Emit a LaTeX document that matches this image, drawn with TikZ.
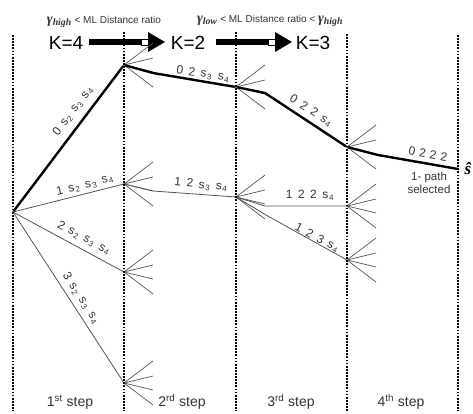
\documentclass[tikz,border=0pt]{standalone}
\usepackage{fontspec}
\setmainfont{Liberation Sans}
\newfontfamily\seriffam{Liberation Serif}
\definecolor{txt}{HTML}{333333}
\definecolor{ln}{HTML}{555555}
\newcommand{\blkarrow}[1]{%
  \fill (#1) ++(0,-3) rectangle ++(52,6);
  \draw[line width=0.8pt, fill=white] (#1) ++(52,-3) rectangle ++(7,6);
  \fill (#1) ++(59,-10) -- ++(17,10) -- ++(-17,10) -- cycle;}
\newcommand{\gam}[1]{{\seriffam\bfseries\itshape\fontsize{14}{14}\selectfont γ\textsubscript{#1}}}
\newcommand{\gp}{\hspace{5.5pt}}
\newcommand{\ssub}[1]{s\kern0.8pt\textsubscript{#1}}
\begin{document}
\begin{tikzpicture}[x=1pt,y=-1pt,
  vtx/.style={circle,fill=black,inner sep=0.7pt},
  grid/.style={line width=1.7pt,dash pattern=on 1.8pt off 1.3pt},
  thin path/.style={draw=ln,line width=0.8pt},
  thick path/.style={draw=black,line width=2.4pt,line join=round},
  fanline/.style={draw=ln,line width=0.7pt},
  lbl/.style={text=txt,font=\fontsize{12}{12}\selectfont,inner sep=0pt},
  steplbl/.style={text=txt,font=\fontsize{14}{14}\selectfont,inner sep=0pt},
  kl/.style={font=\fontsize{19}{19}\selectfont,inner sep=0pt},
  top/.style={font=\fontsize{10}{10}\selectfont,inner sep=0pt,text=txt}]
\useasboundingbox (0,0) rectangle (473,413);
% step separators
\draw[grid] (13,35) -- (13,411);
\draw[grid] (124,32) -- (124,411);
\draw[grid] (236,32) -- (236,411);
\draw[grid] (347,34) -- (347,411);
\draw[grid] (458,35) -- (458,411);
% header
\node[top] (g1) at (104,22) {\gam{high} < ML Distance ratio};
\node[top] (g2) at (270,21) {\gam{low} < ML Distance ratio < \gam{high}};
\node[kl] (k4) at (66,43) {K=4};
\node[kl] (k2) at (188,43) {K=2};
\node[kl] (k3) at (313,43) {K=3};
\coordinate (ar1) at (89,42);
\coordinate (ar2) at (216,42);
\blkarrow{ar1}
\blkarrow{ar2}
% tree nodes
\node[vtx] (r) at (13,212) {};
\node[vtx] (a2) at (124,65) {};
\node[vtx] (b2) at (124,184) {};
\node[vtx] (c2) at (124,272) {};
\node[vtx] (d2) at (124,383) {};
\node[vtx] (a3) at (236,87) {};
\node[vtx] (b3) at (236,197) {};
\node[vtx] (a4) at (347,147) {};
\node[vtx] (b4) at (347,206) {};
\node[vtx] (c4) at (347,260) {};
\coordinate (e) at (458,169);
% fans
\foreach \n in {a2,b2,c2,d2,a3,b3,a4,b4,c4}{
  \foreach \d in {-22,-7,7,22}{\draw[fanline] (\n) -- ++(29,\d);}}
% thin paths
\draw[thin path] (r) -- (b2);
\draw[thin path] (r) -- (c2);
\draw[thin path] (r) -- (d2);
\draw[thin path] (b2) -- ++(29,7) -- (b3);
\draw[thin path] (b3) -- ++(29,9) -- (b4);
\draw[thin path] (b3) -- ++(30,18) -- (c4);
% selected path
\draw[thick path] (r) -- (a2) -- ++(29,8) -- (a3) -- ++(29,6) -- (a4) -- ++(31,8) -- (e);
% branch labels
\node[lbl,rotate=53] (l1) at (73,111) {0\gp\ssub{2}\gp\ssub{3}\gp\ssub{4}};
\node[lbl,rotate=14] (l2) at (85,185) {1\gp\ssub{2}\gp\ssub{3}\gp\ssub{4}};
\node[lbl,rotate=-28] (l3) at (84,238) {2\gp\ssub{2}\gp\ssub{3}\gp\ssub{4}};
\node[lbl,rotate=-57] (l4) at (81,298) {3\gp\ssub{2}\gp\ssub{3}\gp\ssub{4}};
\node[lbl,rotate=-8] (l5) at (203,74) {0\gp 2\gp\ssub{3}\gp\ssub{4}};
\node[lbl,rotate=-5] (l6) at (201,185) {1\gp 2\gp\ssub{3}\gp\ssub{4}};
\node[lbl,rotate=-33] (l7) at (311,111) {0\gp 2\gp 2\gp\ssub{4}};
\node[lbl] (l8) at (310,195) {1\gp 2\gp 2\gp\ssub{4}};
\node[lbl,rotate=-28] (l9) at (317,238) {1\gp 2\gp 3\gp\ssub{4}};
\node[lbl,rotate=-10] (l10) at (428,154) {0\hspace{4pt}2\hspace{4pt}2\hspace{4pt}2};
\node[lbl,align=center,font=\fontsize{11.5}{12.5}\selectfont] (sel) at (429,183) {1- path\\selected};
\node[inner sep=0pt,font=\seriffam\bfseries\itshape\fontsize{17}{17}\selectfont] (shat) at (468,169) {ŝ};
% step labels
\node[steplbl] (s1) at (70,402) {1\textsuperscript{st} step};
\node[steplbl] (s2) at (182,402) {2\textsuperscript{rd} step};
\node[steplbl] (s3) at (291,402) {3\textsuperscript{rd} step};
\node[steplbl] (s4) at (401,402) {4\textsuperscript{th} step};
\end{tikzpicture}
\end{document}
